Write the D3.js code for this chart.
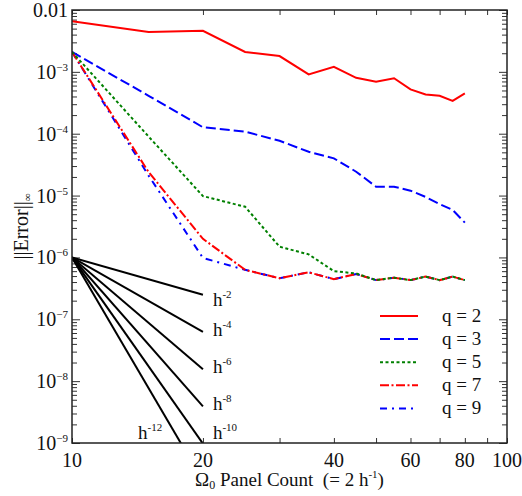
<!DOCTYPE html>
<html>
<head>
<meta charset="utf-8">
<script src="https://cdn.jsdelivr.net/npm/d3@7"></script>
<style>
  body { margin: 0; background: #fff; }
  text { font-family: "Liberation Serif", "Times New Roman", serif; fill: #111; }
</style>
</head>
<body>
<script>
// ---- data ----
const panels = [10, 15, 20, 25, 30, 35, 40, 45, 50, 55, 60, 65, 70, 75, 80];
const q2 = [6.6e-3, 4.4e-3, 4.6e-3, 2.1e-3, 1.8e-3, 9.1e-4, 1.21e-3, 8.0e-4, 6.9e-4, 7.9e-4, 5.2e-4, 4.3e-4, 4.1e-4, 3.4e-4, 4.5e-4];
const q3 = [2.1e-3, 4.1e-4, 1.27e-4, 1.08e-4, 7.7e-5, 5.1e-5, 4.0e-5, 2.43e-5, 1.39e-5, 1.39e-5, 1.2e-5, 9.5e-6, 7.3e-6, 5.85e-6, 3.65e-6];
const q5 = [2.1e-3, 9.0e-5, 9.8e-6, 6.6e-6, 1.49e-6, 1.12e-6, 6.0e-7, 5.5e-7, 4.3e-7, 4.7e-7, 4.3e-7, 4.9e-7, 4.3e-7, 4.9e-7, 4.3e-7];
const q7 = [2.1e-3, 2.4e-5, 2.0e-6, 6.3e-7, 4.6e-7, 5.75e-7, 4.45e-7, 5.4e-7, 4.3e-7, 4.7e-7, 4.3e-7, 4.9e-7, 4.3e-7, 4.9e-7, 4.3e-7];
const q9 = [2.1e-3, 2.1e-5, 9.8e-7, 6.3e-7, 4.6e-7, 5.75e-7, 4.45e-7, 5.4e-7, 4.3e-7, 4.7e-7, 4.3e-7, 4.9e-7, 4.3e-7, 4.9e-7, 4.3e-7];
const seriesNames = ["q = 2", "q = 3", "q = 5", "q = 7", "q = 9"];

const refOrders = [2, 4, 6, 8, 10, 12];
const refStart = [10, 1e-6];
const refEndX = 20;

const xTicks = [10, 20, 30, 40, 50, 60, 70, 80, 90, 100];
const xTickLabels = [10, 20, 40, 60, 80, 100];
const yExponents = [-9, -8, -7, -6, -5, -4, -3, -2];

// ---- layout / style ----
const W = 522, H = 496;
const L = 72, R = 507, T = 10, B = 443;
const styles = [
  { color: "#ff0000", dash: null },
  { color: "#0000ff", dash: "10,4" },
  { color: "#008000", dash: "3,2.5" },
  { color: "#ff0000", dash: "9,2.5,2,2.5" },
  { color: "#0000ff", dash: "7,5,2,5" }
];

const svg = d3.select("body").append("svg").attr("width", W).attr("height", H);

const x = d3.scaleLog().domain([10, 100]).range([L, R]);
const y = d3.scaleLog().domain([1e-9, 1e-2]).range([B, T]);

svg.append("defs").append("clipPath").attr("id", "plotclip")
  .append("rect").attr("x", L).attr("y", T).attr("width", R - L).attr("height", B - T);

// ---- ticks ----
const minorY = [];
yExponents.slice(0, -1).forEach(e => { for (let k = 2; k <= 9; k++) minorY.push(k * Math.pow(10, e)); });
const majorY = yExponents.map(e => Math.pow(10, e));

function cleanAxis(g) {
  g.select(".domain").remove();
  g.selectAll(".tick line").attr("stroke", "#333").attr("stroke-width", 1);
}
svg.append("g").attr("transform", `translate(${L},0)`)
  .call(d3.axisLeft(y).tickValues(majorY).tickSize(-8).tickFormat("")).call(cleanAxis);
svg.append("g").attr("transform", `translate(${L},0)`)
  .call(d3.axisLeft(y).tickValues(minorY).tickSize(-5).tickFormat("")).call(cleanAxis);
svg.append("g").attr("transform", `translate(${R},0)`)
  .call(d3.axisRight(y).tickValues(majorY).tickSize(-8).tickFormat("")).call(cleanAxis);
svg.append("g").attr("transform", `translate(${R},0)`)
  .call(d3.axisRight(y).tickValues(minorY).tickSize(-5).tickFormat("")).call(cleanAxis);
svg.append("g").attr("transform", `translate(0,${B})`)
  .call(d3.axisBottom(x).tickValues(xTicks).tickSize(-5).tickFormat("")).call(cleanAxis);
svg.append("g").attr("transform", `translate(0,${T})`)
  .call(d3.axisTop(x).tickValues(xTicks).tickSize(-5).tickFormat("")).call(cleanAxis);

// ---- tick labels ----
yExponents.forEach(e => {
  const t = svg.append("text").attr("x", 68).attr("y", y(Math.pow(10, e)) + 7)
    .attr("text-anchor", "end").attr("font-size", 20);
  if (e === -2) {
    t.text("0.01");
  } else {
    t.append("tspan").text("10");
    t.append("tspan").attr("dy", -8).attr("font-size", 11).text("\u2212" + (-e));
  }
});
xTickLabels.forEach(v => {
  svg.append("text").attr("x", x(v)).attr("y", 467).attr("text-anchor", "middle")
    .attr("font-size", 20).text(v);
});

// ---- axis titles ----
const xt = svg.append("text").attr("x", (L + R) / 2).attr("y", 486)
  .attr("text-anchor", "middle").attr("font-size", 19).attr("xml:space", "preserve");
xt.append("tspan").text("\u03A9");
xt.append("tspan").attr("font-size", 12).attr("dy", 3).text("0");
xt.append("tspan").attr("dy", -3).text(" Panel Count  (= 2 h");
xt.append("tspan").attr("font-size", 11).attr("dy", -8).text("-1");
xt.append("tspan").attr("dy", 8).text(")");

const yt = svg.append("text").attr("transform", `translate(28,${(T + B) / 2}) rotate(-90)`)
  .attr("text-anchor", "middle").attr("font-size", 20);
yt.append("tspan").text("||Error||");
yt.append("tspan").attr("font-size", 11).attr("dy", 3).text("\u221E");

// ---- reference slopes ----
const plot = svg.append("g").attr("clip-path", "url(#plotclip)");
const refLine = d3.line().x(d => x(d[0])).y(d => y(d[1]));
refOrders.forEach(p => {
  const endY = refStart[1] * Math.pow(refEndX / refStart[0], -p);
  plot.append("path").datum([refStart, [refEndX, endY]])
    .attr("d", refLine).attr("fill", "none").attr("stroke", "#000").attr("stroke-width", 2);
});
const refLabelOffsets = { 2: [10, 11], 4: [10, 4], 6: [10, 4], 8: [10, 4], 10: [10, -4] };
refOrders.forEach(p => {
  const endY = refStart[1] * Math.pow(refEndX / refStart[0], -p);
  let lx, ly;
  if (p === 12) { lx = 138; ly = 439; }
  else { lx = x(refEndX) + refLabelOffsets[p][0]; ly = Math.min(y(endY), B) + refLabelOffsets[p][1]; }
  const t = svg.append("text").attr("x", lx).attr("y", ly).attr("font-size", 19);
  t.append("tspan").text("h");
  t.append("tspan").attr("dy", -8).attr("font-size", 11).text("-" + p);
});

// ---- data series ----
const allSeries = [q2, q3, q5, q7, q9];
const line = d3.line().x((d, i) => x(panels[i])).y(d => y(d));
const drawOrder = [0, 1, 4, 3, 2];
drawOrder.forEach(i => {
  plot.append("path").datum(allSeries[i]).attr("d", line)
    .attr("fill", "none").attr("stroke", styles[i].color).attr("stroke-width", 2)
    .attr("stroke-dasharray", styles[i].dash);
});

// ---- legend ----
seriesNames.forEach((name, i) => {
  const ly = 316 + i * 23.1;
  svg.append("line").attr("x1", 380).attr("x2", 418).attr("y1", ly).attr("y2", ly)
    .attr("stroke", styles[i].color).attr("stroke-width", 2).attr("stroke-dasharray", styles[i].dash);
  svg.append("text").attr("x", 442).attr("y", ly + 6).attr("font-size", 19).text(name);
});

// ---- frame ----
svg.append("rect").attr("x", L).attr("y", T).attr("width", R - L).attr("height", B - T)
  .attr("fill", "none").attr("stroke", "#222").attr("stroke-width", 1.5);
</script>
</body>
</html>
